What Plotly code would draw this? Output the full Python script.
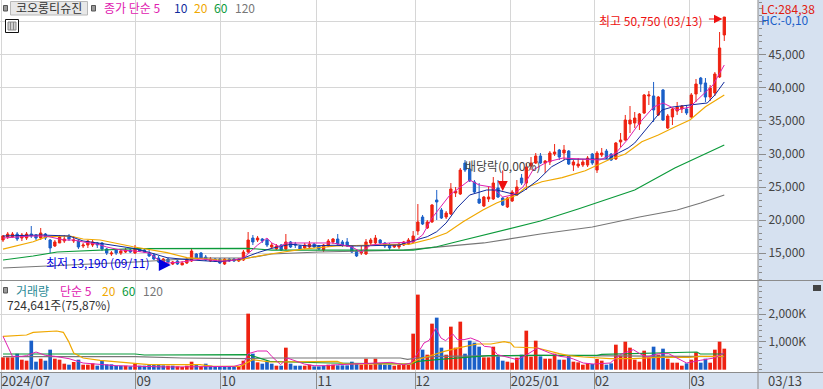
import plotly.graph_objects as go

FONT = "Noto Sans CJK KR"
RED, BLUE = "#ee2211", "#1a5fc8"
MAGENTA, NAVY, ORANGE, GREEN, GRAY = "#e020b0", "#102a9c", "#f0a800", "#0b9a3a", "#777777"
BAND = "#d6e1f0"

opens = [16970,17420,17420,17880,17270,17270,17880,17730,17270,17880,
         16970,16060,16520,16820,17580,16820,16820,16060,16210,16210,
         16520,16520,15610,14850,15450,15000,15150,15450,15000,15610,
         15450,15000,14700,14240,13330,14090,13330,13790,13190,13480,
         13790,14850,15000,14390,13790,14090,14090,13330,14090,14090,
         13790,13940,15150,17270,16970,17120,16970,15910,15610,16210,
         15610,16670,16360,16060,15760,15910,16360,16060,15450,16060,
         16670,17120,16670,16670,16060,15300,15000,14850,16520,16520,
         16970,16520,16210,15910,15910,16210,16360,16670,18330,20450,
         18790,19700,23030,21510,20450,20910,24090,23940,28630,27720,
         25760,23180,22120,23180,23180,24850,23330,21970,22880,23790,
         26360,25600,28180,28630,29700,28630,28790,30000,30600,30150,
         30450,28330,28180,28330,28330,30000,27570,29850,30450,30000,
         29240,31820,32120,34540,34700,34540,36210,38790,38790,35910,
         39700,33940,35610,36510,36820,36820,35610,39090,41510,40760,
         38630,39240,41670,48030]
highs = [17730,18180,18180,18180,18030,18180,19090,17880,18790,18030,
         17120,16970,17730,17730,17880,17580,16970,16520,16970,16970,
         16670,16670,15760,15300,15610,15610,15760,15610,16210,15760,
         15610,15450,15000,14550,14240,14240,13790,13940,13790,14240,
         15760,15000,15150,14700,14390,14240,14240,14240,14240,14240,
         14240,15450,18180,17730,17580,17270,17120,16520,16360,16360,
         17880,16820,16670,16210,16520,16820,16520,16210,16360,17120,
         17270,17880,16970,17270,16210,15450,16060,17120,17270,17730,
         17120,16670,16520,16360,16520,16820,17270,18330,22420,20760,
         20000,22420,24550,21820,21360,25600,25000,27880,29090,28630,
         26060,25600,23640,25000,26510,26060,23480,23480,24550,26060,
         26970,28630,29540,30150,30150,29090,30450,31510,30760,31360,
         30600,29090,29390,29240,29700,30150,30450,30910,30760,30150,
         31820,33180,35910,37270,36360,36210,39090,39540,40910,38790,
         39850,36060,36970,37880,37420,37420,39240,41360,41670,41510,
         40450,42420,48480,50750]
lows = [16670,17120,17270,16820,16820,16970,17270,16970,16970,16970,
        15000,15910,16520,16520,16820,16520,15610,15760,15760,15910,
        15760,15300,14700,14550,14700,14700,15000,15000,14850,15150,
        15000,14390,13940,13480,13190,13190,13190,13190,13190,13330,
        13640,14090,14090,13790,13640,13640,13330,13190,13640,13640,
        13640,13790,15000,16210,16670,16520,15910,15610,15450,15300,
        15450,15760,15760,15450,15610,15610,15760,15450,15150,15910,
        16360,16210,15910,15910,15000,14390,14700,14700,16060,16360,
        16360,15760,15450,15760,15610,16060,16210,16520,17730,19240,
        18640,19550,20000,20150,20150,20760,23480,23790,27270,25760,
        24090,22420,21970,22730,23030,23330,22120,21820,22730,23640,
        25300,24550,27570,28480,28480,27120,28330,29700,29090,29090,
        28330,27420,27880,28030,28030,28330,27120,29540,29240,28940,
        29090,31060,31970,33180,33940,33640,36060,37420,34850,35760,
        35000,33790,34390,35910,36210,35910,35450,37880,39390,37880,
        38030,38790,41510,47120]
closes = [17580,17880,17880,17120,17730,17880,17580,17270,18030,17270,
          15760,16670,17420,17120,17120,16970,15910,16210,16820,16670,
          16210,15610,15000,15000,15000,15300,15450,15150,15760,15300,
          15150,14550,14090,13640,14090,13640,13640,13330,13480,14090,
          15300,14240,14240,13940,14090,13790,13480,14090,13790,13790,
          14090,15150,16970,16670,17270,16820,16210,16210,16060,15450,
          16670,15910,16210,15610,16210,16360,15910,15610,16210,16820,
          17120,16360,16210,16060,15150,14550,15150,16670,16970,17270,
          16520,16060,15760,16210,16360,16670,16970,17580,19700,19390,
          19700,22270,22730,20300,21060,24700,24390,27570,27570,25910,
          24240,22570,23480,23480,25600,23480,22270,23330,24240,25000,
          25600,28030,28630,29700,28630,28940,30150,30300,29540,30600,
          28480,28790,28480,28790,29390,28630,30150,30150,29390,29090,
          31670,32120,35150,35150,35450,36060,38940,38940,36670,38630,
          35150,35760,36820,37120,37270,36210,38940,40600,40600,38630,
          40000,42120,46060,50750]

volumes = [444,444,444,576,360,324,1044,288,396,324,
           720,396,360,216,180,276,360,180,180,228,
           144,324,192,192,144,144,144,120,216,144,
           144,168,168,204,156,144,144,120,96,144,
           288,168,120,216,144,96,96,96,96,120,
           120,324,2016,576,264,216,288,216,144,144,
           792,216,144,144,144,180,120,120,144,180,
           180,156,156,156,288,204,180,396,180,396,
           204,180,180,144,168,168,168,1296,2700,720,
           540,1656,1872,792,540,1548,792,1728,576,1044,
           972,828,444,444,828,480,324,288,252,432,
           540,1404,468,1044,480,396,396,576,360,360,
           528,288,264,180,228,204,384,324,180,228,
           900,504,1008,792,360,288,684,444,828,540,
           756,396,252,252,144,228,360,624,252,396,
           252,720,1008,756]
volume_side = ("rrrbrrbbrb" "brrrbrbrrr" "bbbbbbrbrb" "bbbbbrbrrr" "rbrbbbbbbb"
               "rrrbrbbbrb" "rbbbrrbbbr" "rbbbbbrrrr" "bbbrrrrrrb" "rrbbrrrrbb"
               "bbrrrbbrrr" "brrrbrrrbr" "brrrrbrrbb" "rrrrrrrrbr" "brrrrbrrbb" "rrrr")
days = list(range(len(closes)))

ma5_x = [0,3,6,9,11,13,15,17,20,22,25,28,31,33,35,38,42,46,48,51,54,56,57,58.7,60,64,70,74,76,78,82,87,89,91,94.8,99,101,103.6,106,108,110.3,112.4,115.4,118.8,123,126.6,130,132.4,135,138,140,143,145.7,148,150.6,153]
ma5_y = [17270,17420,17580,17580,17270,16970,16970,16670,16360,15910,15450,15300,15000,13940,13480,13640,14090,13790,13790,14240,16210,17270,16520,15960,16520,16520,16520,15910,15150,16210,16520,16670,17730,20300,23790,26060,25300,25000,23480,23790,25000,27570,28790,29390,29240,29090,30150,32120,34700,37120,37730,36670,37120,38630,40450,43480]
ma10_x = [0,8,14,17,20.6,27.6,30.5,34.8,40,46,50.3,54,57,61,65,70,75,84,86.3,90,92,94,96.3,99,102.6,104.7,109,110.7,113.5,116.4,119.3,123.5,128.4,130.5,132.6,134,137.9,139.8,142,145.7,149.4,151,153]
ma10_y = [17580,17730,17580,16820,16470,15710,15200,14290,13940,13680,14050,15050,15710,16320,16060,16170,16060,16210,16710,17470,18230,19550,21820,23790,24550,24550,23790,24550,26060,28080,29200,29240,29240,30150,30910,31670,35150,36670,37120,37420,37730,38940,40910]
ma20_x = [0,6.4,9.3,14.2,17,20.6,27.6,34.8,39,46,50.3,53,56,60.2,63.6,70.8,77.9,86.3,90.6,94.1,97.6,101.8,104.7,109,110.7,114.3,118.6,123.5,128.4,132,135.5,139,142.6,145.7,149,153]
ma20_y = [15600,16710,17470,17580,17120,16970,15950,15050,14290,13940,13940,14390,14770,15200,15600,16060,16210,16360,17120,18030,19740,21510,22580,23790,24850,25800,26410,27470,29090,30000,31860,32880,34130,35150,37160,38940]
ma60_x = [0,6.4,11.5,17,28,52,57,87,92,96,103,114,122,134,142.5,153]
ma60_y = [13940,14550,15150,15350,15650,15710,15450,15450,15950,16670,17880,19850,21670,24550,27880,31360]
ma120_x = [0,9,21,28,42,52,57,67,85,92,102,114,125,135,143,148,153]
ma120_y = [12730,13030,13330,13640,14240,14240,14850,15150,15450,15910,16520,17880,18940,20450,21510,22580,23790]

vma5_x = [0,1,2,4,5,7,9,11,14,17,24,35,49,51,52,54,56,57,58.9,60.3,63.9,66,68.8,70.9,78,82.3,85,86.5,88,89.3,90.4,91.8,92.9,93.9,95.4,96.4,97.8,99.2,101,102.1,103.5,104.9,106.3,109.1,110.5,113.4,116,118.1,119.9,121,123.1,125.2,128.8,130.9,133.7,135.2,136.6,139,141.2,143,145,147.9,150.8,152.9]
vma5_y = [1200,840,480,480,504,636,516,480,396,240,144,96,120,216,576,672,672,480,180,420,204,144,144,180,240,264,180,240,600,960,1056,1500,1140,1044,1284,1080,1080,1140,1020,840,816,540,480,360,480,780,600,480,444,384,240,204,240,540,720,564,456,576,576,420,240,336,420,600]
vma20_x = [0,5,6.4,11.4,12.8,13.9,15,17,20.6,27.6,31,41.8,44.6,50.3,51.7,53,56.6,70.9,72.4,86.5,87.9,90,93.6,97.1,100.6,103.5,106.3,107.7,108.4,113.4,116,118,120,123.1,128.8,133.7,139,145.7,147.8,152.8]
vma20_y = [1200,1248,1344,1392,1344,1020,600,420,336,240,180,180,120,120,240,360,276,300,204,204,360,480,660,804,924,924,1008,960,816,780,660,576,504,456,396,396,444,444,480,480]
vma60_x = [0,28,30,52,56.6,69.5,86.5,88,92,96.5,103,114,126,127,133.7,138.6,147.2,147.9,153]
vma60_y = [564,564,528,540,300,240,204,300,360,420,504,516,516,552,576,600,636,564,564]
vma120_x = [0,28,38,52,56.8,84.3,85.8,87.9,92.2,114,153]
vma120_y = [468,468,420,396,420,420,372,420,480,516,468]

price_ticks = [15000,20000,25000,30000,35000,40000,45000,50000]
price_labels = ["15,000","20,000","25,000","30,000","35,000","40,000","45,000",""]
volume_ticks = [1000,2000]
volume_labels = ["1,000K","2,000K"]
month_ticks = [-0.4,28.2,46.2,66.6,87.4,107.6,125.4,145.7]
month_labels = ["2024/07","09","10","11","12","2025/01","02","03"]

W, H = 823, 389
PW, PH = 758, 372
def px(x): return x / PW
def py(y): return 1 - y / PH

fig = go.Figure()
for x, y, c, w in [(ma120_x, ma120_y, GRAY, 1.2), (ma60_x, ma60_y, GREEN, 1.2), (ma20_x, ma20_y, ORANGE, 1.2)]:
    fig.add_trace(go.Scatter(x=x, y=y, mode="lines", line=dict(color=c, width=w), xaxis="x", yaxis="y", showlegend=False, hoverinfo="skip"))
fig.add_trace(go.Candlestick(x=days, open=opens, high=highs, low=lows, close=closes, xaxis="x", yaxis="y",
    increasing=dict(line=dict(color=RED, width=1), fillcolor=RED),
    decreasing=dict(line=dict(color=BLUE, width=1), fillcolor=BLUE),
    whiskerwidth=0, showlegend=False))
for x, y, c in [(ma10_x, ma10_y, NAVY), (ma5_x, ma5_y, MAGENTA)]:
    fig.add_trace(go.Scatter(x=x, y=y, mode="lines", line=dict(color=c, width=1), xaxis="x", yaxis="y", showlegend=False, hoverinfo="skip"))

fig.add_trace(go.Bar(x=days, y=volumes, marker=dict(color=[RED if s == "r" else BLUE for s in volume_side], line_width=0),
                     width=0.78, xaxis="x2", yaxis="y2", showlegend=False))
for x, y, c in [(vma120_x, vma120_y, GRAY), (vma60_x, vma60_y, GREEN), (vma20_x, vma20_y, ORANGE), (vma5_x, vma5_y, MAGENTA)]:
    fig.add_trace(go.Scatter(x=x, y=y, mode="lines", line=dict(color=c, width=1.2 if c != MAGENTA else 1), xaxis="x2", yaxis="y2", showlegend=False, hoverinfo="skip"))

GRID = "#d6d6d6"
AX = "#8c8c8c"
TXT = "#444444"
x_range = [-0.636, 160.15]
price_range = [10759, 53330]
vol_range = [-83, 3190]
fig.update_layout(
    width=W, height=H, margin=dict(l=0, r=W-PW, t=0, b=H-PH, autoexpand=False),
    paper_bgcolor=BAND, plot_bgcolor="white", font=dict(family=FONT, size=12, color=TXT),
    showlegend=False, bargap=0.2, barmode="overlay",
    xaxis=dict(domain=[0,1], range=x_range, anchor="y", tickmode="array", tickvals=month_ticks, ticktext=[""]*len(month_ticks),
               showgrid=True, gridcolor=GRID, gridwidth=1, ticks="", rangeslider=dict(visible=False), zeroline=False, showline=False),
    xaxis2=dict(domain=[0,1], range=x_range, anchor="y2", tickmode="array", tickvals=month_ticks, ticktext=month_labels,
               showgrid=True, gridcolor=GRID, gridwidth=1, ticks="outside", ticklen=17, tickcolor=AX, tickwidth=1,
               ticklabelposition="outside right", ticklabelstandoff=-3, tickfont=dict(size=13, color=TXT), zeroline=False, showline=False),
    yaxis=dict(domain=[1-281/PH,1], range=price_range, side="right", anchor="x", tickmode="array", tickvals=price_ticks, ticktext=price_labels,
               showgrid=True, gridcolor=GRID, gridwidth=1, ticks="outside", ticklen=7, tickcolor=AX, tickfont=dict(size=12, color=TXT),
               minor=dict(dtick=1000, tick0=0, ticks="outside", ticklen=3, tickcolor=AX, showgrid=False), zeroline=False, showline=False),
    yaxis2=dict(domain=[0,1-281/PH], range=vol_range, side="right", anchor="x2", tickmode="array", tickvals=volume_ticks, ticktext=volume_labels,
               showgrid=True, gridcolor=GRID, gridwidth=1, ticks="outside", ticklen=7, tickcolor=AX, tickfont=dict(size=12, color=TXT),
               minor=dict(dtick=200, tick0=0, ticks="outside", ticklen=3, tickcolor=AX, showgrid=False), zeroline=False, showline=False),
)

shapes = [
    # opaque legend strip above the chart's grid
    dict(type="rect", xref="paper", yref="paper", x0=0, x1=px(250), y0=py(14), y1=1, fillcolor="white", line_width=0, layer="below"),
    dict(type="rect", xref="paper", yref="paper", x0=0, x1=px(W), y0=py(281), y1=py(280), fillcolor=AX, line_width=0, layer="above"),
    dict(type="rect", xref="paper", yref="paper", x0=0, x1=px(W), y0=py(373), y1=py(372), fillcolor=AX, line_width=0, layer="above"),
    dict(type="rect", xref="paper", yref="paper", x0=px(757.5), x1=px(758.5), y0=py(H), y1=1, fillcolor=AX, line_width=0, layer="above"),
    # legend button
    dict(type="rect", xref="paper", yref="paper", x0=px(10.5), x1=px(87.5), y0=py(15), y1=py(1.5), fillcolor="#e8e8e8", line=dict(color="#b8b8b8", width=1)),
    # small legend squares
    dict(type="rect", xref="paper", yref="paper", x0=px(3.5), x1=px(7.5), y0=py(11), y1=py(5.5), fillcolor="#9a9a9a", line=dict(color="#555", width=1)),
    dict(type="rect", xref="paper", yref="paper", x0=px(91.5), x1=px(95.5), y0=py(11), y1=py(5.5), fillcolor="#9a9a9a", line=dict(color="#555", width=1)),
    dict(type="rect", xref="paper", yref="paper", x0=px(3.5), x1=px(7.5), y0=py(293), y1=py(287.5), fillcolor="#9a9a9a", line=dict(color="#555", width=1)),
    # table icon
    dict(type="rect", xref="paper", yref="paper", x0=px(5.5), x1=px(18.5), y0=py(32.5), y1=py(19.5), fillcolor="white", line=dict(color="#111", width=1)),
    dict(type="rect", xref="paper", yref="paper", x0=px(8), x1=px(16), y0=py(30), y1=py(22), fillcolor="#cfcfcf", line=dict(color="#888", width=1)),
    dict(type="line", xref="paper", yref="paper", x0=px(10.5), x1=px(10.5), y0=py(30), y1=py(22), line=dict(color="#888", width=1)),
    dict(type="line", xref="paper", yref="paper", x0=px(13.5), x1=px(13.5), y0=py(30), y1=py(22), line=dict(color="#888", width=1)),
    # close icon
    dict(type="rect", xref="paper", yref="paper", x0=px(813), x1=px(821), y0=py(291), y1=py(285), fillcolor="#444", line_width=0, layer="above"),
]
fig.update_layout(shapes=shapes)

def txt(x, y, s, color, size=12, anchor="left"):
    return dict(xref="paper", yref="paper", x=px(x), y=py(y), text=s, showarrow=False, xanchor=anchor, yanchor="middle",
                font=dict(family=FONT, size=size, color=color))
ann = [
    txt(14, 8, "코오롱티슈진", "#333333", 12),
    txt(102, 8, "종가 단순 5", MAGENTA),
    txt(172, 8, "10", NAVY), txt(192, 8, "20", ORANGE), txt(212, 8, "60", GREEN), txt(233, 8, "120", GRAY),
    txt(14, 290, "거래량", "#2a8a96"), txt(58, 290, "단순 5", MAGENTA),
    txt(100, 290, "20", ORANGE), txt(120, 290, "60", GREEN), txt(141, 290, "120", GRAY),
    txt(5, 304, "724,641주(75,87%)", "#333333"),
    txt(759, 9, "LC:284,38", "#e02010"), txt(759, 20, "HC:-0,10", "#1a5fc8"),
    txt(766, 380, "03/13", TXT, 13),
    txt(597, 21, "최고 50,750 (03/13)", "#ee1111"),
    txt(44, 262, "최저 13,190 (09/11)", "#0000e0"),
    txt(463, 165, "배당락(0,00%)", "#444444"),
    dict(xref="x", yref="y", x=152.6, y=50450, ax=-15, ay=0, text="", showarrow=True, arrowcolor="#ee1111", arrowhead=2, arrowsize=1.4, arrowwidth=1.2),
    dict(xref="x", yref="y", x=35.6, y=13190, ax=-12, ay=0, text="", showarrow=True, arrowcolor="#0000e0", arrowhead=2, arrowsize=2, arrowwidth=1.2),
    dict(xref="x", yref="y", x=106, y=24400, ax=0, ay=-22, text="", showarrow=True, arrowcolor="#ee1111", arrowhead=2, arrowsize=2, arrowwidth=1),
]
fig.update_layout(annotations=ann)
fig.write_html("out.html", config=dict(displayModeBar=False),
               post_script="document.body.style.margin='0';document.body.style.overflow='hidden';")
